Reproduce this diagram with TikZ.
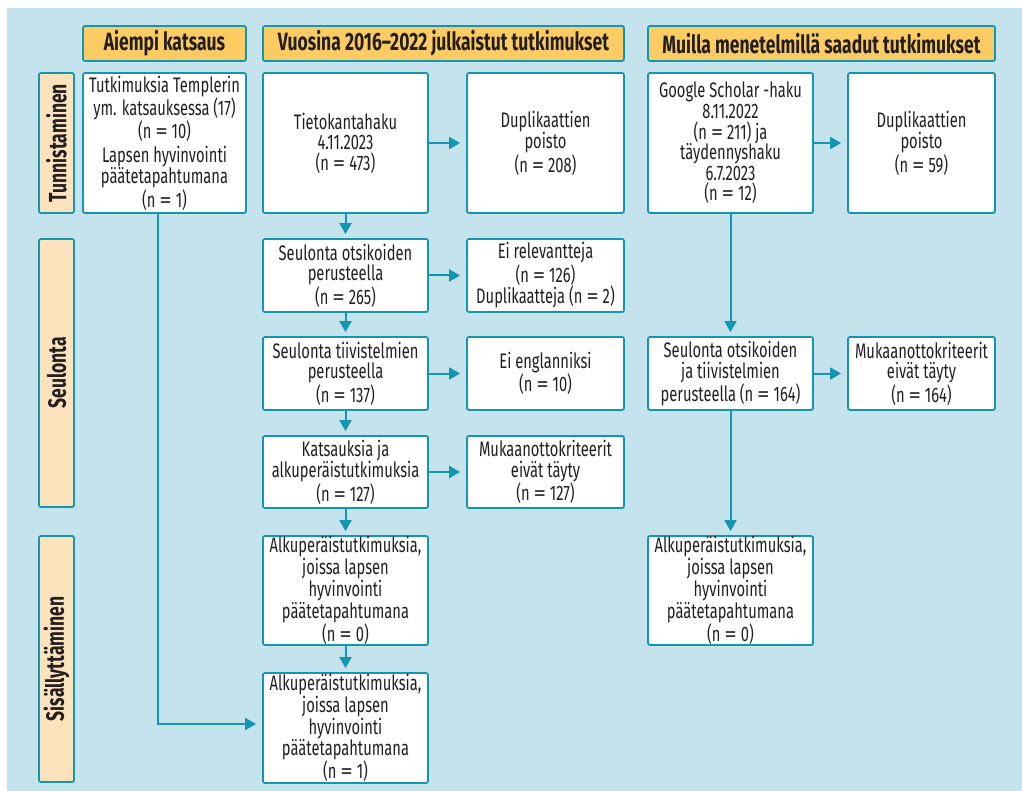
\documentclass[tikz,border=0pt]{standalone}
\usepackage{fontspec}
\setmainfont[FakeStretch=0.70]{Fira Sans}
\usetikzlibrary{arrows.meta}
\definecolor{bgblue}{HTML}{C5E3EC}
\definecolor{tealc}{HTML}{1496B1}
\definecolor{headc}{HTML}{FDCB64}
\definecolor{stagec}{HTML}{FDE3BD}
\definecolor{txtc}{HTML}{231F20}
\newcommand\myeq{\scalebox{1.7}[1]{=}}
\begin{document}
\begin{tikzpicture}[x=1pt,y=-1pt,
  every node/.style={text=txtc},
  base/.style={draw=tealc, line width=1.8pt, rounded corners=2pt, inner sep=0pt, align=center},
  headbox/.style={base, fill=headc, font=\fontsize{25}{28}\selectfont\bfseries, minimum height=35pt},
  stagebox/.style={base, fill=stagec, font=\fontsize{25}{28}\selectfont\bfseries, rotate=90, minimum height=35pt},
  box/.style={base, fill=white, font=\fontsize{21}{20.6}\selectfont},
  arr/.style={draw=tealc, line width=2pt, -{Triangle[length=11pt,width=12pt]}},
  harr/.style={arr, shorten >=6pt},
  varr/.style={arr, shorten >=4pt}
]
\useasboundingbox (0,0) rectangle (1022,791);
\fill[bgblue] (7,8) rectangle (1022,791);

% headers
\node[headbox, minimum width=163pt] (hA) at (164.5,43.5) {Aiempi katsaus};
\node[headbox, minimum width=361pt] (hB) at (443.5,43.5) {Vuosina 2016–2022 julkaistut tutkimukset};
\node[headbox, minimum width=347pt] (hC) at (821.5,43.5) {Muilla menetelmillä saadut tutkimukset};

% stage labels
\node[stagebox, minimum width=140pt] (sT) at (56.5,143) {Tunnistaminen};
\node[stagebox, minimum width=268pt] (sS) at (56.5,373) {Seulonta};
\node[stagebox, minimum width=246pt] (sI) at (56.5,659) {Sisällyttäminen};

% row 1
\node[box, minimum width=163pt, minimum height=140pt] (a1) at (164.5,143)
  {Tutkimuksia Templerin\\ym. katsauksessa (17)\\(n \myeq{} 10)\\[3pt]Lapsen hyvinvointi\\päätetapahtumana\\(n \myeq{} 1)};
\node[box, minimum width=165pt, minimum height=140pt] (b1) at (345.5,143)
  {Tietokantahaku\\4.11.2023\\(n \myeq{} 473)};
\node[box, minimum width=157pt, minimum height=140pt] (c1) at (545.5,143)
  {Duplikaattien\\poisto\\(n \myeq{} 208)};
\node[box, minimum width=165pt, minimum height=140pt] (d1) at (730.5,143)
  {Google Scholar -haku\\8.11.2022\\(n \myeq{} 211) ja\\täydennyshaku\\6.7.2023\\(n \myeq{} 12)};
\node[box, minimum width=147pt, minimum height=140pt] (e1) at (921.5,143)
  {Duplikaattien\\poisto\\(n \myeq{} 59)};

% row 2
\node[box, minimum width=165pt, minimum height=73pt] (b2) at (345.5,275.5)
  {Seulonta otsikoiden\\perusteella\\(n \myeq{} 265)};
\node[box, minimum width=157pt, minimum height=73pt] (c2) at (545.5,275.5)
  {Ei relevantteja\\(n \myeq{} 126)\\Duplikaatteja (n \myeq{} 2)};

% row 3
\node[box, minimum width=165pt, minimum height=73pt] (b3) at (345.5,373.5)
  {Seulonta tiivistelmien\\perusteella\\(n \myeq{} 137)};
\node[box, minimum width=157pt, minimum height=73pt] (c3) at (545.5,373.5)
  {Ei englanniksi\\(n \myeq{} 10)};
\node[box, minimum width=165pt, minimum height=73pt] (d3) at (730.5,373.5)
  {Seulonta otsikoiden\\ja tiivistelmien\\perusteella (n \myeq{} 164)};
\node[box, minimum width=147pt, minimum height=73pt] (e3) at (921.5,373.5)
  {Mukaanottokriteerit\\eivät täyty\\(n \myeq{} 164)};

% row 4
\node[box, minimum width=165pt, minimum height=72pt] (b4) at (345.5,472)
  {Katsauksia ja\\alkuperäistutkimuksia\\(n \myeq{} 127)};
\node[box, minimum width=157pt, minimum height=72pt] (c4) at (545.5,472)
  {Mukaanottokriteerit\\eivät täyty\\(n \myeq{} 127)};

% row 5
\node[box, minimum width=165pt, minimum height=109pt] (b5) at (345.5,590.5)
  {Alkuperäistutkimuksia,\\joissa lapsen\\hyvinvointi\\päätetapahtumana\\(n \myeq{} 0)};
\node[box, minimum width=165pt, minimum height=109pt] (d5) at (730.5,590.5)
  {Alkuperäistutkimuksia,\\joissa lapsen\\hyvinvointi\\päätetapahtumana\\(n \myeq{} 0)};

% row 6
\node[box, minimum width=165pt, minimum height=110pt] (b6) at (345.5,728)
  {Alkuperäistutkimuksia,\\joissa lapsen\\hyvinvointi\\päätetapahtumana\\(n \myeq{} 1)};

% connectors
\draw[harr] (b1.east) -- (c1.west);
\draw[harr] (d1.east) -- (e1.west);
\draw[harr] (b2.east) -- (c2.west);
\draw[harr] (b3.east) -- (c3.west);
\draw[harr] (d3.east) -- (e3.west);
\draw[harr] (b4.east) -- (c4.west);
\draw[varr] (b1.south) -- (b2.north);
\draw[varr] (b2.south) -- (b3.north);
\draw[varr] (b3.south) -- (b4.north);
\draw[varr] (b4.south) -- (b5.north);
\draw[varr] (b5.south) -- (b6.north);
\draw[varr] (d1.south) -- (d3.north);
\draw[varr] (d3.south) -- (d5.north);
\draw[harr] ([xshift=-6.5pt]a1.south) |- ([yshift=4pt]b6.west);
\end{tikzpicture}
\end{document}
